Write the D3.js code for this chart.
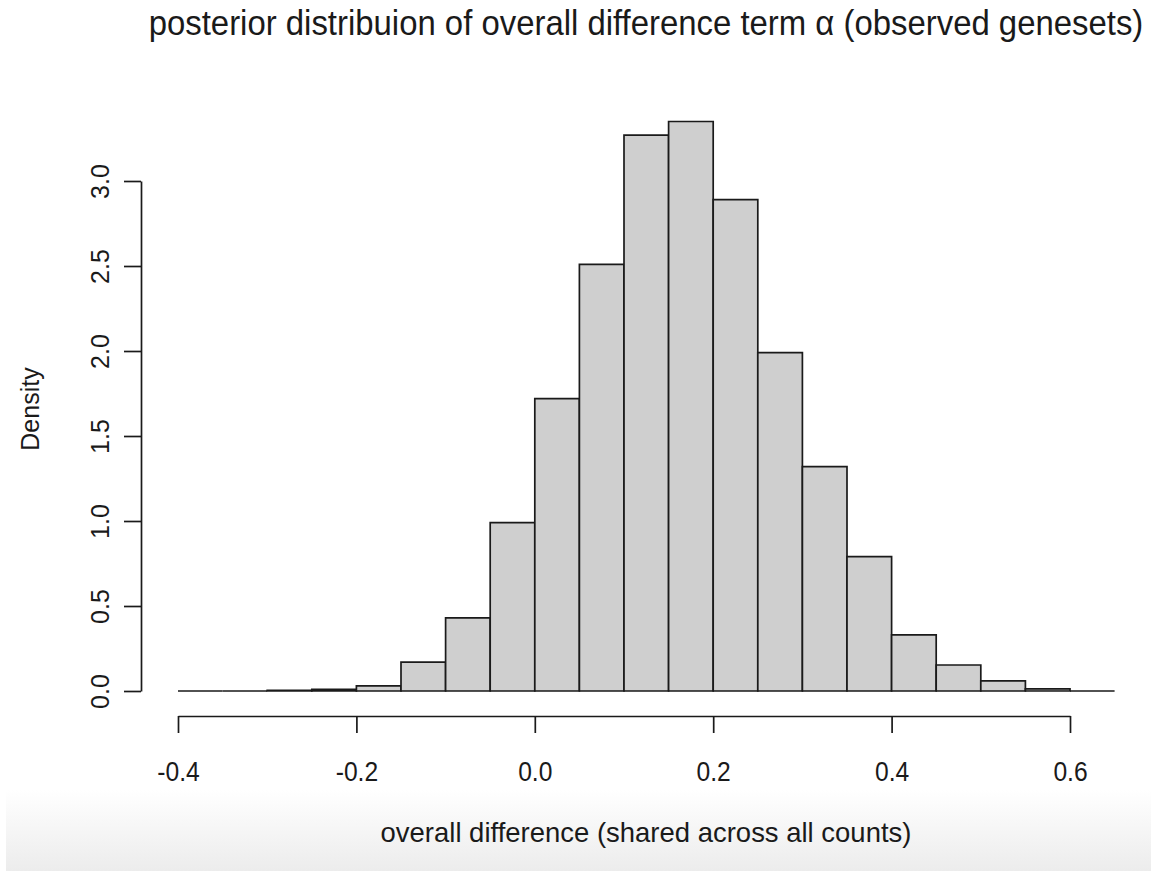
<!DOCTYPE html>
<html>
<head>
<meta charset="utf-8">
<script src="https://cdn.jsdelivr.net/npm/d3@7"></script>
<style>
  html, body { margin: 0; padding: 0; background: #ffffff; }
  svg { display: block; }
  text { font-family: "Liberation Sans", Arial, Helvetica, sans-serif; fill: #1a1a1a; }
</style>
</head>
<body>
<svg id="chart" width="1151" height="871"></svg>
<script>
// ---- data ----
const breaks = [-0.4, -0.35, -0.3, -0.25, -0.2, -0.15, -0.1, -0.05, 0.0, 0.05, 0.1,
                0.15, 0.2, 0.25, 0.3, 0.35, 0.4, 0.45, 0.5, 0.55, 0.6, 0.65];
const density = [0, 0, 0.004, 0.01, 0.03, 0.17, 0.43, 0.99, 1.72, 2.51, 3.27,
                 3.35, 2.89, 1.99, 1.32, 0.79, 0.33, 0.153, 0.06, 0.012, 0];
const xTicks = [-0.4, -0.2, 0.0, 0.2, 0.4, 0.6];
const xTickLabels = ["-0.4", "-0.2", "0.0", "0.2", "0.4", "0.6"];
const yTicks = [0, 0.5, 1.0, 1.5, 2.0, 2.5, 3.0];
const yTickLabels = ["0.0", "0.5", "1.0", "1.5", "2.0", "2.5", "3.0"];
const titleText = "posterior distribuion of overall difference term \u03B1 (observed genesets)";
const xLabel = "overall difference (shared across all counts)";
const yLabel = "Density";

const bins = density.map((d, i) => ({ x0: breaks[i], x1: breaks[i + 1], d }));

const svg = d3.select("#chart");
const defs = svg.append("defs");

// bottom light-grey fade present in the screenshot
const grad = defs.append("linearGradient").attr("id", "fade")
  .attr("x1", 0).attr("y1", 0).attr("x2", 0).attr("y2", 1);
grad.append("stop").attr("offset", "0%").attr("stop-color", "#ffffff");
grad.append("stop").attr("offset", "100%").attr("stop-color", "#ececec");
svg.append("rect").attr("x", 6).attr("y", 790).attr("width", 1145).attr("height", 81)
  .attr("fill", "url(#fade)");

const x = d3.scaleLinear().domain([-0.4, 0.6]).range([178, 1070]);
const y = d3.scaleLinear().domain([0, 3.0]).range([691, 181]);

// bars (paths, so zero-height bins still draw their outline on the baseline)
svg.append("g").selectAll("path").data(bins).join("path")
  .attr("d", b => {
    const p = d3.path();
    p.rect(x(b.x0), y(b.d), x(b.x1) - x(b.x0), y(0) - y(b.d));
    return p.toString();
  })
  .attr("fill", "#cfcfcf")
  .attr("stroke", "#1a1a1a")
  .attr("stroke-width", 1.7);

// x axis
const xAxis = d3.axisBottom(x).tickValues(xTicks)
  .tickFormat((d, i) => xTickLabels[i]).tickSize(17).tickSizeOuter(0).tickPadding(28);
const gx = svg.append("g").attr("transform", "translate(0,716)").call(xAxis);
gx.select(".domain").attr("stroke", "#1a1a1a").attr("stroke-width", 1.7);
gx.selectAll(".tick line").attr("stroke", "#1a1a1a").attr("stroke-width", 1.7);
gx.selectAll(".tick text").attr("font-size", 28).attr("fill", "#1a1a1a")
  .attr("font-family", "Liberation Sans, Arial, sans-serif")
  .attr("x", 0)
  .attr("transform", "scale(0.88,1)");

// y axis
const yAxis = d3.axisLeft(y).tickValues(yTicks)
  .tickFormat((d, i) => yTickLabels[i]).tickSize(17).tickSizeOuter(0).tickPadding(14);
const gy = svg.append("g").attr("transform", "translate(141,0)").call(yAxis);
gy.select(".domain").attr("stroke", "#1a1a1a").attr("stroke-width", 1.7);
gy.selectAll(".tick line").attr("stroke", "#1a1a1a").attr("stroke-width", 1.7);
gy.selectAll(".tick text")
  .attr("font-size", 25).attr("fill", "#1a1a1a")
  .attr("font-family", "Liberation Sans, Arial, sans-serif")
  .attr("text-anchor", "middle").attr("x", 0).attr("dy", 0)
  .attr("transform", "translate(-41,0) rotate(-90)")
  .attr("y", 9);

// helper: draw text centred at cx, compressed horizontally to a target width
function fittedText(str, cx, baseline, size, targetW) {
  const t = svg.append("text").attr("text-anchor", "middle")
    .attr("font-size", size).attr("x", 0).attr("y", 0).text(str);
  const w = t.node().getComputedTextLength();
  const s = Math.min(1, targetW / w);
  t.attr("transform", `translate(${cx},${baseline}) scale(${s},1)`);
  return t;
}

// title
fittedText(titleText, 646, 35, 35, 995);
// x label
fittedText(xLabel, 646, 842, 28, 531);

// y label
svg.append("text")
  .attr("transform", "translate(39,409) rotate(-90)")
  .attr("text-anchor", "middle").attr("font-size", 25)
  .text(yLabel);
</script>
</body>
</html>
